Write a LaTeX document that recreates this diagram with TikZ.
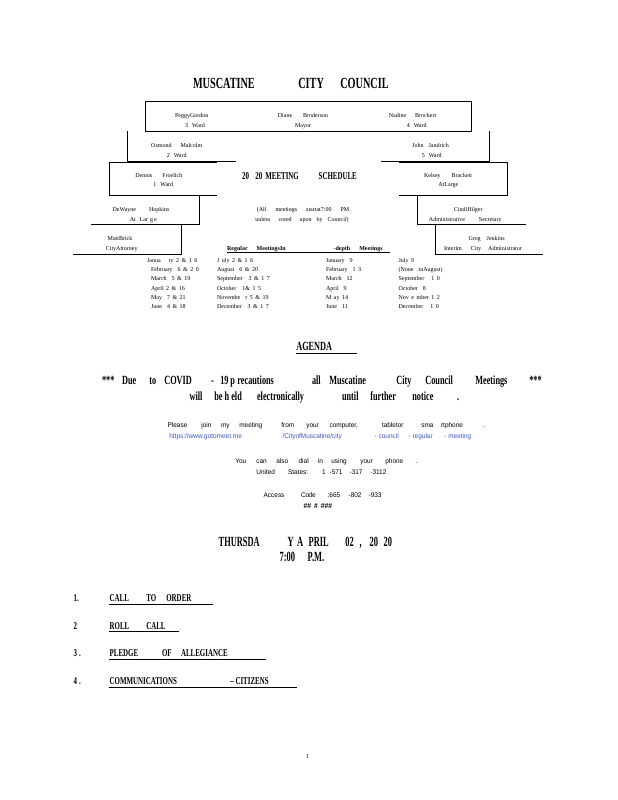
\documentclass[tikz,border=0pt]{standalone}
\usepackage{fontspec}
\setmainfont{Liberation Serif}
\setsansfont{Liberation Sans}
\newfontfamily\narrowfont[FakeStretch=0.66]{Liberation Serif}
\newfontfamily\datefont[FakeStretch=0.6]{Liberation Serif}
\newfontfamily\webfont[FakeStretch=0.95]{Liberation Sans}
\definecolor{linkblue}{RGB}{60,85,190}
\newcommand{\gp}{\hspace{2.5pt}}
\tikzset{
  member/.style={font=\fontsize{6}{7}\selectfont, inner sep=0pt, anchor=base},
  schedule/.style={font=\fontsize{6}{7}\selectfont, inner sep=0pt, anchor=base west},
  headword/.style={font=\narrowfont\bfseries\fontsize{15.5}{18}\selectfont, inner sep=0pt, anchor=base west},
  noticeword/.style={font=\narrowfont\bfseries\fontsize{12.5}{15}\selectfont, inner sep=0pt, anchor=base west},
  dateword/.style={font=\datefont\bfseries\fontsize{14}{16}\selectfont, inner sep=0pt, anchor=base west},
  itemword/.style={font=\narrowfont\bfseries\fontsize{10.5}{12}\selectfont, inner sep=0pt, anchor=base west},
  webword/.style={font=\webfont\fontsize{6.8}{8}\selectfont, inner sep=0pt, anchor=base west},
}
\begin{document}
\begin{tikzpicture}[x=1pt,y=-1pt,line width=0.7pt]
\useasboundingbox (0,0) rectangle (618,800);

% heading
\foreach \x/\w [count=\i] in {192.7/MUSCATINE,298/CITY,340/COUNCIL}
  \node[headword] (head\i) at (\x,88.3) {\w};

% council frame
\draw (145.7,101) rectangle (471.7,131);
\draw (127.3,131) -- (127.3,161.5) -- (236,161.5);
\draw (489.3,131) -- (489.3,161.5) -- (381,161.5);
\draw (217,162.8) -- (109.3,162.8) -- (109.3,195) -- (217,195);
\draw (399.3,162.8) -- (507.3,162.8) -- (507.3,195) -- (399.3,195);
\draw (199.3,195) -- (199.3,224.7) -- (90.7,224.7);
\draw (417.3,195) -- (417.3,224.7) -- (526,224.7);
\draw (181,224.7) -- (181,254.3) -- (72.7,254.3);
\draw (435,224.7) -- (435,254.3) -- (543.3,254.3);
\draw (226.7,252.3) -- (390,252.3);

% members
\node[member] (gordon) at (191.7,117.7) {PeggyGordon};
\node[member] (gordonward) at (195,127.7) {3\hspace{4pt}Ward};
\node[member] (broderson) at (303,117.7) {Diane\hspace{11pt}Broderson};
\node[member] (mayor) at (303,127.7) {Mayor};
\node[member] (brockert) at (412.5,117.7) {Nadine\hspace{9pt}Brockert};
\node[member] (brockertward) at (416.7,127.7) {4\hspace{4pt}Ward};
\node[member] (malcolm) at (176.7,147) {Osmond\hspace{9pt}Malcolm};
\node[member] (malcolmward) at (176.7,157) {2\hspace{4pt}Ward};
\node[member] (jandrich) at (430.5,147) {John\hspace{5pt}Jandrich};
\node[member] (jandrichward) at (431.7,157) {5\hspace{4pt}Ward};
\node[member] (froelich) at (158.8,177) {Dennis\hspace{10pt}Froelich};
\node[member] (froelichward) at (163.3,186) {1\hspace{4pt}Ward};
\node[member] (brackett) at (448,177) {Kelsey\hspace{11pt}Brackett};
\node[member] (brackettlarge) at (448.3,186) {AtLarge};
\node[member] (hopkins) at (141,211.3) {DeWayne\hspace{13pt}Hopkins};
\node[member] (hopkinslarge) at (143.3,221.3) {At\hspace{4pt}Lar\hspace{2pt}g\hspace{1pt}e};
\node[member] (hilger) at (468.3,211.3) {CindiHilger};
\node[member] (hilgerrole) at (465.3,221.3) {Administrative\hspace{14pt}Secretary};
\node[member] (brick) at (120,240.3) {MattBrick};
\node[member] (brickrole) at (121.7,250.3) {CityAttorney};
\node[member] (jenkins) at (486.7,240.3) {Greg\hspace{6pt}Jenkins};
\node[member] (jenkinsrole) at (483,250.3) {Interim\hspace{9pt}City\hspace{7pt}Administrator};

% schedule
\node[itemword] (sched1) at (241.7,179.2) {20};
\node[itemword] (sched2) at (255,179.2) {20};
\node[itemword] (sched3) at (265,179.2) {MEETING};
\node[itemword] (sched4) at (318.3,179.2) {SCHEDULE};
\node[member] (start) at (303,211.3) {(All\hspace{9pt}meetings\hspace{9pt}startat7:00\hspace{9pt}PM};
\node[member] (unless) at (302,221.3) {unless\hspace{8pt}voted\hspace{8pt}upon\hspace{5pt}by\hspace{5pt}Council)};
\node[member,anchor=base west,font=\bfseries\fontsize{6}{7}\selectfont] (regular) at (226.7,250.3) {Regular\hspace{9pt}MeetingsIn};
\node[member,anchor=base west,font=\bfseries\fontsize{6}{7}\selectfont] (depth) at (333.3,250.3) {-depth\hspace{9pt}Meetings};

\foreach \x/\entry [count=\n] in {146.7/{Janua\hspace{8pt}ry\gp 2\gp\&\gp 1\gp 6},150.7/{February\hspace{5pt}6\gp\&\gp 2\gp 0},150.7/{March\hspace{5pt}5\gp\&\gp 19},150.7/{April\gp 2\gp\&\gp 16},150.7/{May\hspace{5pt}7\gp\&\gp 21},150.7/{June\hspace{5pt}4\gp\&\gp 18}}
  \node[schedule] (rega\n) at (\x,252.7+9.33*\n) {\entry};
\foreach \entry [count=\n] in {{J\gp uly\gp 2\gp\&\gp 1\gp 6},{August\hspace{5pt}6\gp\&\gp 20},{September\hspace{6pt}3\gp\&\gp 1\gp 7},{October\hspace{6pt}1\&\gp 1\gp 5},{Novembe\hspace{5pt}r\gp 5\gp\&\gp 19},{December\hspace{6pt}3\gp\&\gp 1\gp 7}}
  \node[schedule] (regb\n) at (216.7,252.7+9.33*\n) {\entry};
\foreach \entry [count=\n] in {{January\hspace{5pt}9},{February\hspace{5pt}1\gp 3},{March\hspace{5pt}12},{April\hspace{5pt}9},{M\gp ay\gp 14},{June\hspace{5pt}11}}
  \node[schedule] (depa\n) at (325.7,252.7+9.33*\n) {\entry};
\foreach \entry [count=\n] in {{July\gp 9},{(None\hspace{5pt}inAugust)},{September\hspace{7pt}1\gp 0},{October\hspace{5pt}8},{Nov\gp e\gp mber\gp 1\gp 2},{December\hspace{7pt}1\gp 0}}
  \node[schedule] (depb\n) at (398.3,252.7+9.33*\n) {\entry};

% agenda
\node[noticeword] (agenda) at (296,350.8) {AGENDA};
\draw[line width=1pt] (296,353.5) -- (356.7,353.5);
\foreach \x/\w [count=\i] in {101.7/***,121.7/Due,149/to,164/COVID,210.7/-,220/19,230/p\hspace{2.5pt}recautions,311.7/all,329/Muscatine,396/City,425/Council,475/Meetings,529/***}
  \node[noticeword] (covida\i) at (\x,384) {\w};
\foreach \x/\w [count=\i] in {189.3/will,214/be h eld,256.7/electronically,341.7/until,370/further,412/notice,456.7/.}
  \node[noticeword] (covidb\i) at (\x,400) {\w};

\foreach \x/\w [count=\i] in {167.3/Please,201/join,220.7/my,239/meeting,281/from,306/your,329.3/{computer,},381.7/tabletor,421/sma,440.7/rtphone,483.3/.}
  \node[webword] (join\i) at (\x,427.7) {\w};
\foreach \x/\w [count=\i] in {169/{https://www.gotomeet.me},282.3/{/CityofMuscatine/city},374.3/- council,408.3/- regular,444/- meeting}
  \node[webword,text=linkblue] (link\i) at (\x,438.6) {\w};
\foreach \x/\w [count=\i] in {235/You,256/can,276/also,298.3/dial,317.7/in,331/using,360/your,385/phone,415/.}
  \node[webword] (dial\i) at (\x,463.3) {\w};
\foreach \x/\w [count=\i] in {256/United,287.7/States:,321.7/1,329.3/-571,349.3/-317,370/-3112}
  \node[webword] (phone\i) at (\x,474.3) {\w};
\foreach \x/\w [count=\i] in {263.3/Access,300.7/Co,308.3/de,327.3/:665,348.3/-802,368.3/-933}
  \node[webword] (access\i) at (\x,497.7) {\w};
\node[webword,font=\bfseries\fontsize{7.5}{9}\selectfont] (hashes) at (303.3,508.3) {\#\#\hspace{3pt}\#\hspace{3pt}\#\#\#};

\foreach \x/\w [count=\i] in {218.3/THURSDA,287.3/Y,296.7/A,308.3/PRIL,345/02,359.3/{,},369.3/20,383.3/20}
  \node[dateword] (date\i) at (\x,546.3) {\w};
\node[dateword] (time1) at (279.3,561.5) {7:00};
\node[dateword] (time2) at (307.3,561.5) {P.M.};

% items
\node[itemword] (num1) at (73.3,601.3) {1.};
\foreach \x/\w [count=\i] in {109.3/CALL,146/TO,166/ORDER}
  \node[itemword] (callorder\i) at (\x,601.3) {\w};
\draw (109.3,604) -- (212.7,604);
\node[itemword] (num2) at (73.3,629) {2};
\foreach \x/\w [count=\i] in {109.3/ROLL,146/CALL}
  \node[itemword] (rollcall\i) at (\x,629) {\w};
\draw (109.3,631.7) -- (179.3,631.7);
\node[itemword] (num3) at (73.3,656.3) {3\hspace{2pt}.};
\foreach \x/\w [count=\i] in {109.3/PLEDGE,161.7/OF,180.7/ALLEGIANCE}
  \node[itemword] (pledge\i) at (\x,656.3) {\w};
\draw (109.3,659.3) -- (266,659.3);
\node[itemword] (num4) at (73.3,684.3) {4\hspace{2pt}.};
\node[itemword] (comm1) at (109.3,684.3) {COMMUNICATIONS};
\node[itemword] (comm2) at (230,684.3) {\textendash\ CITIZENS};
\draw (109.3,687.3) -- (296.7,687.3);

\node[member] (page) at (307.3,758) {1};
\end{tikzpicture}
\end{document}
